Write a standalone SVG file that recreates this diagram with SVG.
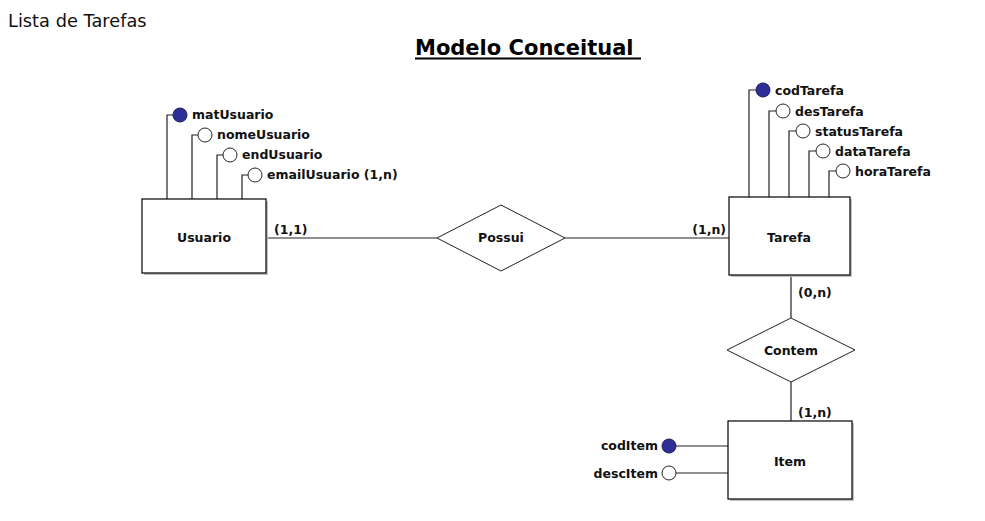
<svg xmlns="http://www.w3.org/2000/svg" width="985" height="521" viewBox="0 0 985 521">
<style>
.bg{fill:#ffffff}
.ent{fill:#ffffff;stroke:#000;stroke-width:1.2}
.shadow{fill:#c0c0c0}
.rel{fill:#ffffff;stroke:#222;stroke-width:1}
.ln{fill:none;stroke:#222;stroke-width:1.2}
.pk{fill:#2e2e96;stroke:#1a1a60;stroke-width:1}
.at{fill:#ffffff;stroke:#222;stroke-width:1}
.t{font-family:"DejaVu Sans",Verdana,sans-serif;font-weight:bold;font-size:12.5px;fill:#111}
.c{text-anchor:middle}
.r{text-anchor:end}
</style>
<rect class="bg" x="0" y="0" width="985" height="521"/>
<text x="8" y="27" font-family="DejaVu Sans, Verdana, sans-serif" font-size="17.8" fill="#111">Lista de Tarefas</text>
<g id="title">
<text x="415" y="55" font-family="DejaVu Sans, Verdana, sans-serif" font-weight="bold" font-size="21" fill="#000">Modelo Conceitual</text>
<line x1="415" y1="58.5" x2="641" y2="58.5" stroke="#000" stroke-width="2"/>
</g>
<g id="connectors">
<line class="ln" x1="266" y1="238" x2="437" y2="238"/>
<line class="ln" x1="565" y1="238" x2="729" y2="238"/>
<line class="ln" x1="791" y1="275" x2="791" y2="318"/>
<line class="ln" x1="791" y1="382" x2="791" y2="421"/>
<text class="t" x="274" y="234">(1,1)</text>
<text class="t r" x="726" y="234">(1,n)</text>
<text class="t" x="798" y="297">(0,n)</text>
<text class="t" x="798" y="417">(1,n)</text>
</g>
<g id="Usuario">
<polyline class="ln" points="167,199 167,115 173,115"/>
<polyline class="ln" points="192,199 192,135 198,135"/>
<polyline class="ln" points="217,199 217,155 223,155"/>
<polyline class="ln" points="242,199 242,175 248,175"/>
<circle class="pk" cx="180" cy="115" r="7"/>
<circle class="at" cx="205" cy="135" r="7"/>
<circle class="at" cx="230" cy="155" r="7"/>
<circle class="at" cx="255" cy="175" r="7"/>
<text class="t" x="192" y="119">matUsuario</text>
<text class="t" x="217" y="139">nomeUsuario</text>
<text class="t" x="242" y="159">endUsuario</text>
<text class="t" x="267" y="179">emailUsuario (1,n)</text>
<rect class="shadow" x="144" y="201" width="124" height="74"/>
<rect class="ent" x="142" y="199" width="124" height="74"/>
<text class="t c" x="204" y="242">Usuario</text>
</g>
<g id="Possui">
<polygon class="rel" points="437,238 501,205 565,238 501,271"/>
<text class="t c" x="501" y="242">Possui</text>
</g>
<g id="Tarefa">
<polyline class="ln" points="749,197 749,90 756,90"/>
<polyline class="ln" points="769,197 769,111 776,111"/>
<polyline class="ln" points="789,197 789,131 796,131"/>
<polyline class="ln" points="809,197 809,151 816,151"/>
<polyline class="ln" points="829,197 829,171 836,171"/>
<circle class="pk" cx="763" cy="90" r="7"/>
<circle class="at" cx="783" cy="111" r="7"/>
<circle class="at" cx="803" cy="131" r="7"/>
<circle class="at" cx="823" cy="151" r="7"/>
<circle class="at" cx="843" cy="171" r="7"/>
<text class="t" x="775" y="95">codTarefa</text>
<text class="t" x="795" y="116">desTarefa</text>
<text class="t" x="815" y="136">statusTarefa</text>
<text class="t" x="835" y="156">dataTarefa</text>
<text class="t" x="855" y="176">horaTarefa</text>
<rect class="shadow" x="731" y="199" width="121" height="78"/>
<rect class="ent" x="729" y="197" width="121" height="78"/>
<text class="t c" x="789" y="242">Tarefa</text>
</g>
<g id="Contem">
<polygon class="rel" points="727,350 791,318 855,350 791,382"/>
<text class="t c" x="791" y="355">Contem</text>
</g>
<g id="Item">
<line class="ln" x1="676" y1="446" x2="728" y2="446"/>
<line class="ln" x1="676" y1="473" x2="728" y2="473"/>
<circle class="pk" cx="669" cy="446" r="7"/>
<circle class="at" cx="669" cy="473" r="7"/>
<text class="t r" x="658" y="450">codItem</text>
<text class="t r" x="658" y="478">descItem</text>
<rect class="shadow" x="730" y="423" width="124" height="78"/>
<rect class="ent" x="728" y="421" width="124" height="78"/>
<text class="t c" x="790" y="466">Item</text>
</g>
</svg>
